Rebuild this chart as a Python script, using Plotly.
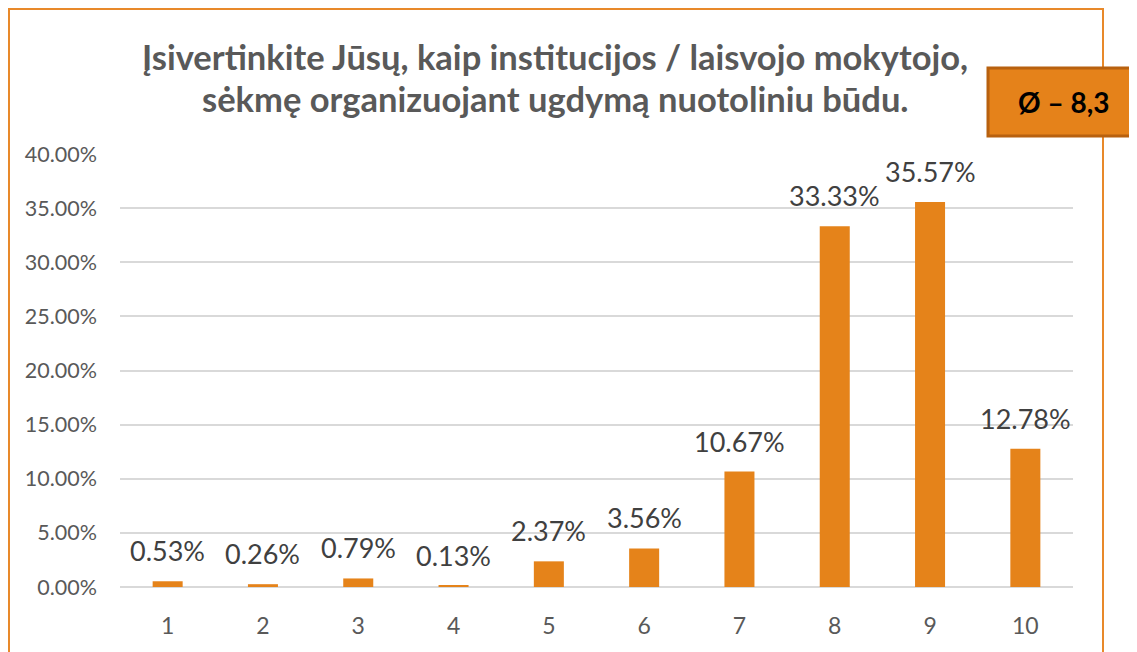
import plotly.graph_objects as go

categories = ["1", "2", "3", "4", "5", "6", "7", "8", "9", "10"]
shares = [0.0053, 0.0026, 0.0079, 0.0013, 0.0237, 0.0356, 0.1067, 0.3333, 0.3557, 0.1278]
tick_vals = [0, 0.05, 0.10, 0.15, 0.20, 0.25, 0.30, 0.35, 0.40]
title_lines = ["Įsivertinkite Jūsų, kaip institucijos / laisvojo mokytojo,",
               "sėkmę organizuojant ugdymą nuotoliniu būdu."]
badge_text = "Ø – 8,3"

OFF = 8  # page body margin
W, H = 1137 - OFF, 652 - OFF
# reference screen coordinates of plot area
SX0, SX1, SY0, SY1 = 120, 1073, 154, 587
L, R, T, B = SX0 - OFF, W - (SX1 - OFF), SY0 - OFF, H - (SY1 - OFF)
pw, ph = W - L - R, H - T - B

def px(sx):
    return (sx - SX0) / pw

def py(sy):
    return (SY1 - sy) / ph

ORANGE = "#E5831A"
FONT = "Lato, 'Open Sans', sans-serif"

fig = go.Figure()
fig.add_trace(go.Bar(
    x=categories, y=shares, marker=dict(color=ORANGE, line=dict(width=0)),
    hoverinfo="skip",
))

for i, v in enumerate(shares):
    fig.add_annotation(
        x=i, y=v, xref="x", yref="y", text=f"{v*100:.2f}%", showarrow=False,
        yanchor="bottom", yshift=12, font=dict(family=FONT, size=27, color="#404040"),
    )

# chart border
fig.add_shape(type="rect", xref="paper", yref="paper",
              x0=px(9), x1=px(1103), y0=py(700), y1=py(9),
              line=dict(color="#E8892A", width=2), fillcolor="rgba(0,0,0,0)", layer="above")

# title
for sy, line in zip([57, 99], title_lines):
    fig.add_annotation(x=px(555), y=py(sy), xref="paper", yref="paper", text=line,
                       showarrow=False, xanchor="center", yanchor="middle",
                       font=dict(family=FONT, size=34.5, color="#595959", weight="bold"))

# badge
fig.add_shape(type="rect", xref="paper", yref="paper",
              x0=px(988), x1=px(1170), y0=py(136), y1=py(68),
              line=dict(color="#B8610F", width=3), fillcolor="#E5821A", layer="above")
fig.add_annotation(x=px(1064), y=py(102), xref="paper", yref="paper", text=f"<b>{badge_text}</b>",
                   showarrow=False, xanchor="center", yanchor="middle",
                   font=dict(family=FONT, size=28, color="#000000"))

fig.update_layout(
    width=W, height=H,
    margin=dict(l=L, r=R, t=T, b=B, autoexpand=False),
    paper_bgcolor="white", plot_bgcolor="white",
    bargap=0.685, showlegend=False,
    xaxis=dict(type="category", showgrid=False, showline=False, ticks="",
               tickfont=dict(family=FONT, size=23, color="#595959"), ticklabelstandoff=23),
    yaxis=dict(range=[0, 0.40], tickvals=tick_vals, tickformat=".2%", showgrid=True,
               gridcolor="#D9D9D9", gridwidth=1.5, zeroline=True, zerolinecolor="#D9D9D9",
               zerolinewidth=1.5, showline=False, ticks="",
               tickfont=dict(family=FONT, size=21.5, color="#595959"), ticklabelstandoff=22),
)

fig.write_html("out.html")
